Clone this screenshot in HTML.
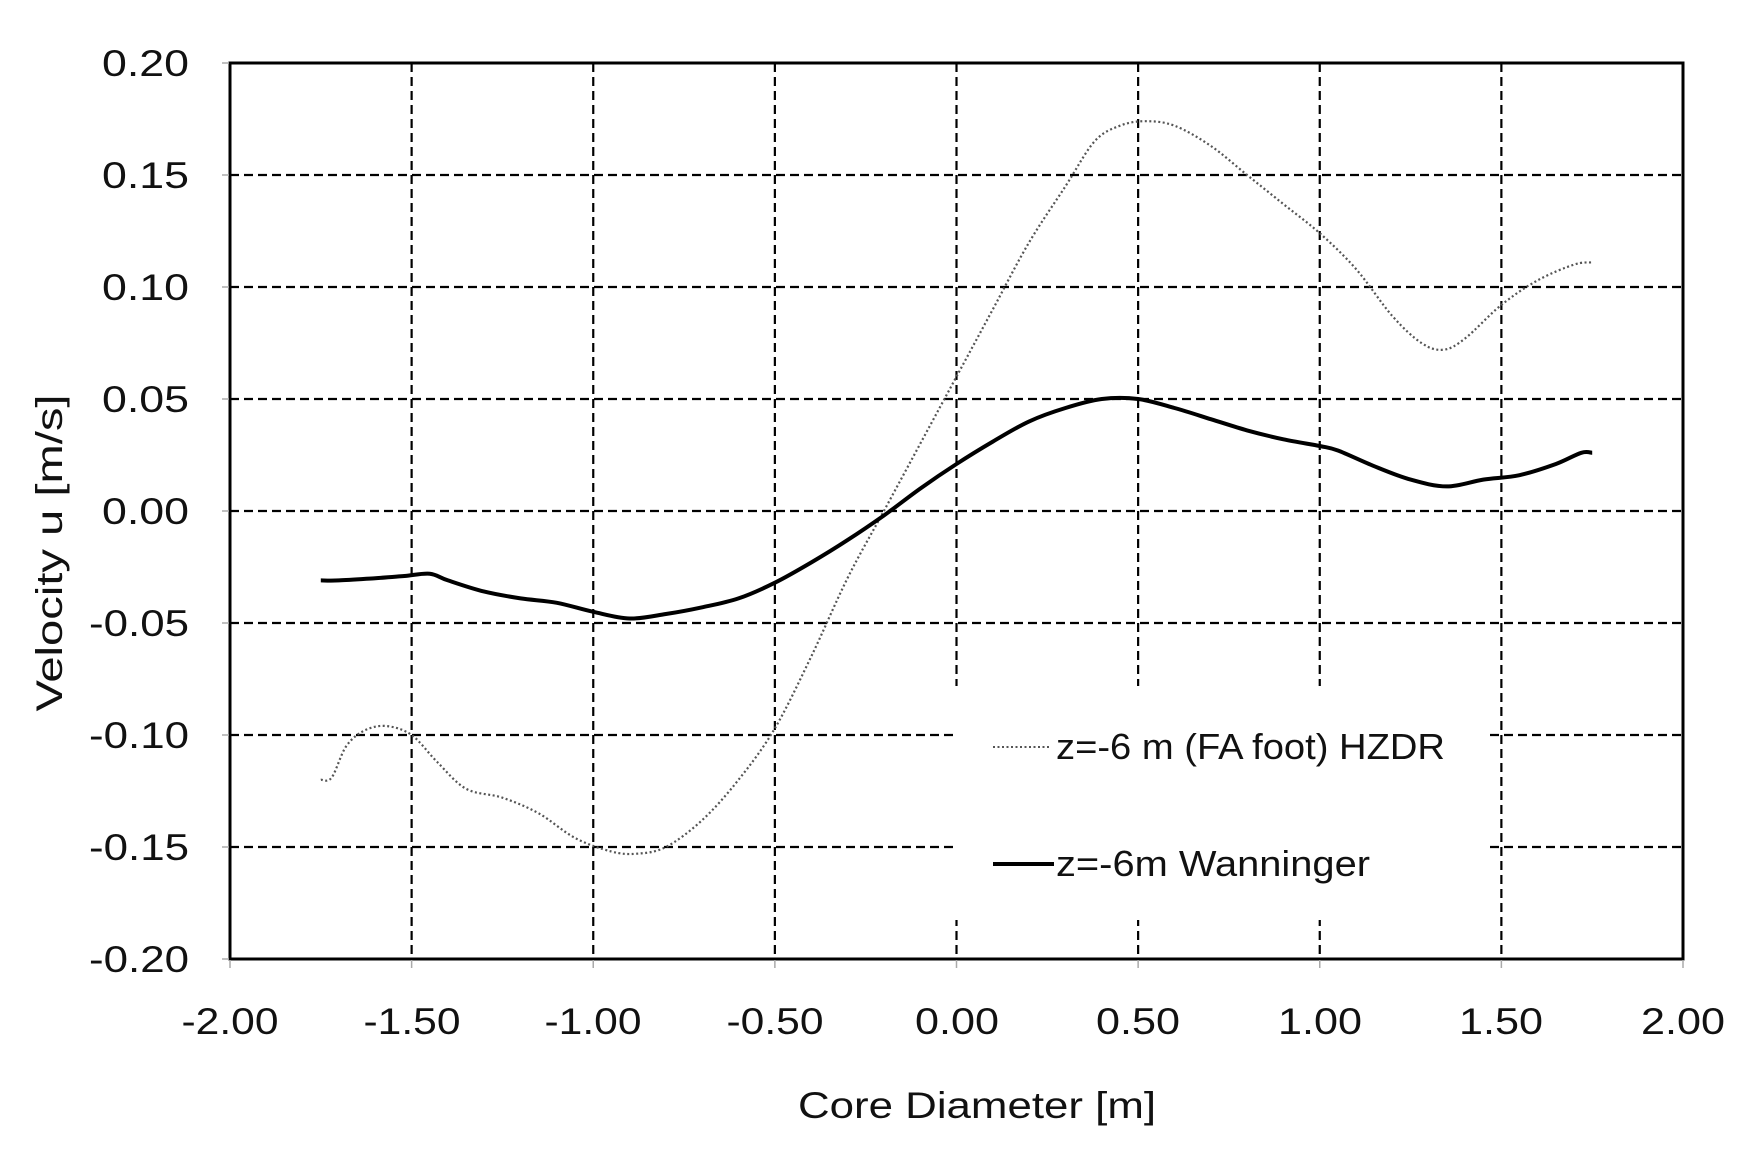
<!DOCTYPE html>
<html><head><meta charset="utf-8"><style>
html,body{margin:0;padding:0;background:#fff;}
svg{display:block;font-family:"Liberation Sans",sans-serif;}
</style></head><body>
<svg id="s" width="1744" height="1161" viewBox="0 0 1744 1161" xmlns="http://www.w3.org/2000/svg">
<rect width="1744" height="1161" fill="#fff"/>
<g id="grid" stroke="#000" stroke-width="2.2" stroke-dasharray="9,5"></g>
<rect x="955" y="686" width="533" height="234" fill="#fff"/>
<path id="hz" fill="none" stroke="#555" stroke-width="2.2" stroke-dasharray="2,2.5"/>
<path id="wa" fill="none" stroke="#000" stroke-width="4" stroke-linejoin="round"/>
<rect x="230" y="63" width="1453" height="896" fill="none" stroke="#000" stroke-width="3"/>
<g id="ticks" stroke="#aaa" stroke-width="1.5"></g>
<g font-size="37" fill="#111" text-anchor="end">
<text x="189" y="76" textLength="87" lengthAdjust="spacingAndGlyphs">0.20</text>
<text x="189" y="188" textLength="87" lengthAdjust="spacingAndGlyphs">0.15</text>
<text x="189" y="300" textLength="87" lengthAdjust="spacingAndGlyphs">0.10</text>
<text x="189" y="412" textLength="87" lengthAdjust="spacingAndGlyphs">0.05</text>
<text x="189" y="524" textLength="87" lengthAdjust="spacingAndGlyphs">0.00</text>
<text x="189" y="636" textLength="100" lengthAdjust="spacingAndGlyphs">-0.05</text>
<text x="189" y="748" textLength="100" lengthAdjust="spacingAndGlyphs">-0.10</text>
<text x="189" y="860" textLength="100" lengthAdjust="spacingAndGlyphs">-0.15</text>
<text x="189" y="972" textLength="100" lengthAdjust="spacingAndGlyphs">-0.20</text>
</g>
<g font-size="37" fill="#111" text-anchor="middle">
<text x="230" y="1034" textLength="97" lengthAdjust="spacingAndGlyphs">-2.00</text>
<text x="412" y="1034" textLength="97" lengthAdjust="spacingAndGlyphs">-1.50</text>
<text x="593" y="1034" textLength="97" lengthAdjust="spacingAndGlyphs">-1.00</text>
<text x="775" y="1034" textLength="97" lengthAdjust="spacingAndGlyphs">-0.50</text>
<text x="957" y="1034" textLength="84" lengthAdjust="spacingAndGlyphs">0.00</text>
<text x="1138" y="1034" textLength="84" lengthAdjust="spacingAndGlyphs">0.50</text>
<text x="1320" y="1034" textLength="84" lengthAdjust="spacingAndGlyphs">1.00</text>
<text x="1501" y="1034" textLength="84" lengthAdjust="spacingAndGlyphs">1.50</text>
<text x="1683" y="1034" textLength="84" lengthAdjust="spacingAndGlyphs">2.00</text>
<text x="977" y="1118" textLength="358" lengthAdjust="spacingAndGlyphs">Core Diameter [m]</text>
<text transform="translate(62,553) rotate(-90)" textLength="317" lengthAdjust="spacingAndGlyphs">Velocity u [m/s]</text>
</g>
<line x1="993" y1="747" x2="1051" y2="747" stroke="#555" stroke-width="2" stroke-dasharray="2,2.5"/>
<text x="1056" y="759" font-size="36" fill="#111" textLength="389" lengthAdjust="spacingAndGlyphs">z=-6 m (FA foot) HZDR</text>
<line x1="993" y1="864" x2="1054" y2="864" stroke="#000" stroke-width="4"/>
<text x="1056" y="876" font-size="36" fill="#111" textLength="314" lengthAdjust="spacingAndGlyphs">z=-6m Wanninger</text>
</svg>
<script>
var X=function(v){return 230+(v+2)*363.25},Y=function(v){return 511-v*2240};
var g=document.getElementById('grid'),t=document.getElementById('ticks'),ns="http://www.w3.org/2000/svg";
function L(p,a,b,c,d){var l=document.createElementNS(ns,'line');l.setAttribute('x1',a);l.setAttribute('y1',b);l.setAttribute('x2',c);l.setAttribute('y2',d);p.appendChild(l);}
for(var i=-3;i<=3;i++){L(g,230,Y(i*0.05),1683,Y(i*0.05));L(g,X(i*0.5),63,X(i*0.5),959);}
for(var i=-4;i<=4;i++){L(t,X(i*0.5),960,X(i*0.5),968);L(t,222,Y(i*0.05),229,Y(i*0.05));}
var hz=[[-1.75,-0.12],[-1.72,-0.119],[-1.68,-0.105],[-1.63,-0.098],[-1.57,-0.096],[-1.5,-0.1],[-1.43,-0.112],[-1.35,-0.124],[-1.25,-0.128],[-1.15,-0.135],[-1.05,-0.146],[-0.95,-0.152],[-0.88,-0.153],[-0.8,-0.15],[-0.7,-0.138],[-0.6,-0.12],[-0.5,-0.097],[-0.4,-0.065],[-0.3,-0.03],[-0.2,0.0],[-0.1,0.03],[0,0.06],[0.1,0.09],[0.2,0.12],[0.3,0.145],[0.38,0.165],[0.45,0.172],[0.52,0.174],[0.6,0.172],[0.7,0.163],[0.8,0.15],[0.9,0.137],[1.0,0.124],[1.1,0.108],[1.2,0.087],[1.28,0.075],[1.34,0.072],[1.4,0.077],[1.5,0.092],[1.6,0.103],[1.7,0.11],[1.75,0.111]];
var wa=[[-1.75,-0.031],[-1.7,-0.031],[-1.6,-0.030],[-1.52,-0.029],[-1.45,-0.028],[-1.4,-0.031],[-1.3,-0.036],[-1.2,-0.039],[-1.1,-0.041],[-1.0,-0.045],[-0.9,-0.048],[-0.8,-0.046],[-0.7,-0.043],[-0.6,-0.039],[-0.5,-0.032],[-0.4,-0.023],[-0.3,-0.013],[-0.2,-0.002],[-0.1,0.01],[0,0.021],[0.1,0.031],[0.2,0.04],[0.3,0.046],[0.4,0.05],[0.5,0.05],[0.6,0.046],[0.7,0.041],[0.8,0.036],[0.9,0.032],[1.0,0.029],[1.05,0.027],[1.15,0.02],[1.25,0.014],[1.35,0.011],[1.45,0.014],[1.55,0.016],[1.65,0.021],[1.72,0.026],[1.75,0.026]];
function P(d){var p=d.map(function(q){return [X(q[0]),Y(q[1])]});var s='M'+p[0][0].toFixed(1)+','+p[0][1].toFixed(1);
for(var i=0;i<p.length-1;i++){var a=p[Math.max(i-1,0)],b=p[i],c=p[i+1],e=p[Math.min(i+2,p.length-1)];
s+=' C'+(b[0]+(c[0]-a[0])/6).toFixed(1)+','+(b[1]+(c[1]-a[1])/6).toFixed(1)+' '+(c[0]-(e[0]-b[0])/6).toFixed(1)+','+(c[1]-(e[1]-b[1])/6).toFixed(1)+' '+c[0].toFixed(1)+','+c[1].toFixed(1);}
return s;}
document.getElementById('hz').setAttribute('d',P(hz));
document.getElementById('wa').setAttribute('d',P(wa));
</script>
</body></html>
